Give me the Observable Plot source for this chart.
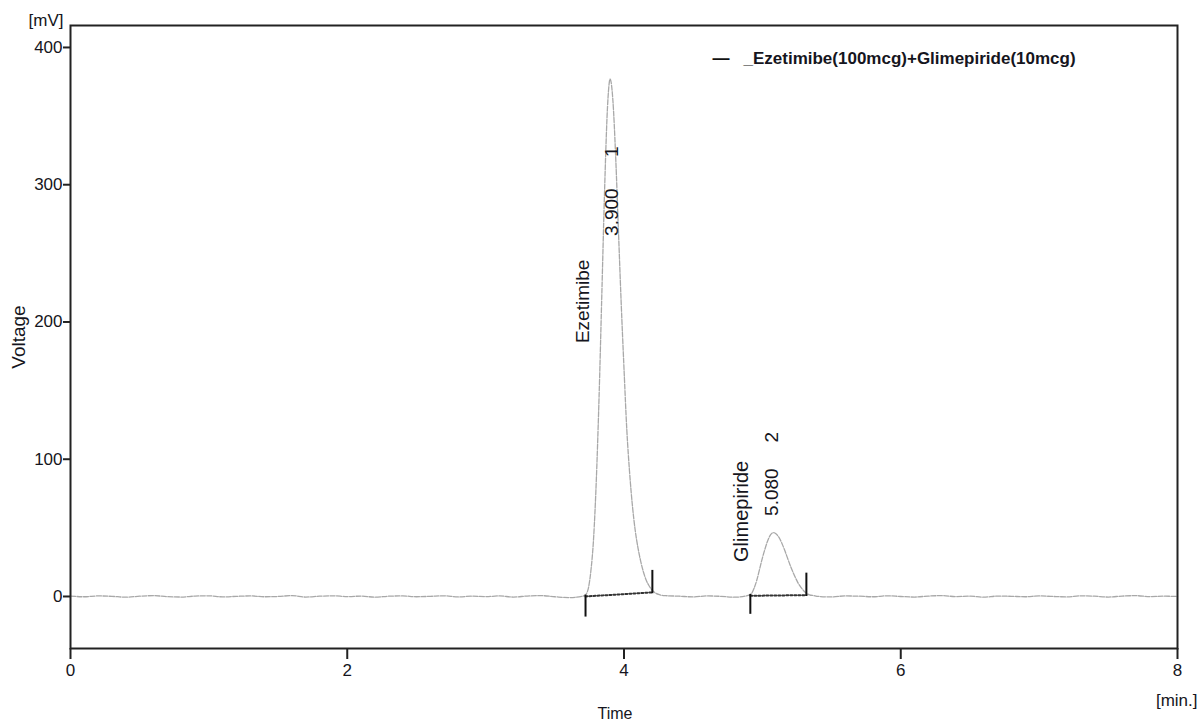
<!DOCTYPE html>
<html>
<head>
<meta charset="utf-8">
<script src="https://cdn.jsdelivr.net/npm/d3@7"></script>
<script src="https://cdn.jsdelivr.net/npm/@observablehq/plot@0.6"></script>
<style>
  html, body { margin: 0; padding: 0; background: #fff; }
  #chart svg { display: block; overflow: visible; }
</style>
</head>
<body>
<div id="chart"></div>
<script>
// ---- data ----
const traceTime = [
  0.0,0.1,0.2,0.3,0.4,0.5,0.6,0.7,0.8,0.9,1.0,1.1,1.2,1.3,1.4,1.5,1.6,1.7,1.8,1.9,
  2.0,2.1,2.2,2.3,2.4,2.5,2.6,2.7,2.8,2.9,3.0,3.1,3.2,3.3,3.4,3.5,3.6,3.7,
  3.72,3.74,3.76,3.78,3.80,3.82,3.84,3.86,3.88,3.90,3.92,3.94,3.96,3.98,4.00,4.02,
  4.04,4.06,4.08,4.10,4.12,4.14,4.16,4.18,4.20,4.22,
  4.26,4.3,4.4,4.5,4.6,4.7,4.8,4.88,
  4.92,4.94,4.96,4.98,5.00,5.02,5.04,5.06,5.08,5.10,5.12,5.14,5.16,5.18,5.20,5.22,
  5.24,5.26,5.28,5.30,5.32,5.34,5.38,
  5.4,5.5,5.6,5.7,5.8,5.9,6.0,6.1,6.2,6.3,6.4,6.5,6.6,6.7,6.8,6.9,7.0,7.1,7.2,7.3,
  7.4,7.5,7.6,7.7,7.8,7.9,8.0
];
const traceMv = [
  0.3,-0.2,0.4,0.1,-0.5,0.2,0.6,-0.1,-0.4,0.3,0.5,-0.3,0.1,0.4,-0.2,0.0,0.6,-0.4,0.2,0.5,
  -0.1,0.3,-0.5,0.2,0.4,-0.2,0.1,0.5,-0.3,0.2,-0.1,0.4,-0.4,0.3,0.6,-0.2,-0.8,0.2,
  1,5,18,42,85,146,221,297,355,377,361,320,266,213,166,122,
  91,67,49,36,26,18,12,8,5,3,
  1.2,0.6,0.2,-0.3,0.4,0.1,-0.5,0.3,
  2,6,12,20,28,35,41,45,46.5,45.5,43,39,34,28.5,23,18,
  13.5,9.5,6.5,4,2.2,1.2,0.5,
  0.1,-0.3,0.4,0.2,-0.2,0.5,0.0,-0.4,0.3,0.6,-0.1,0.2,-0.5,0.3,0.1,-0.2,0.4,0.0,-0.3,0.5,
  0.2,-0.4,0.3,0.6,-0.1,0.2,0.0
];

// integration baselines (start / end of each peak)
const peakIds    = [1, 2];
const peakStartT = [3.722, 4.913];
const peakEndT   = [4.205, 5.318];
const peakStartV = [0, 0.5];
const peakEndV   = [3, 1];
// start / end marker tick extents (mV)
const startMarkLow  = [-15, -13];
const endMarkHigh   = [19, 17];

// peak annotations
const retTimes   = ["3.900", "5.080"];
const peakNames  = ["Ezetimibe", "Glimepiride"];
const nameT  = [3.706, 4.848];
const nameV  = [215, 62];
const rtT    = [3.909, 5.072];
const rtV    = [280, 76];
const numV   = [324, 116];

const xTicks = [0, 2, 4, 6, 8];
const yTicks = [0, 100, 200, 300, 400];
const legendLabels = ["_Ezetimibe(100mcg)+Glimepiride(10mcg)"];

// ---- build tables ----
const trace = traceTime.map((t, i) => ({t, v: traceMv[i]}));
const baseLines = peakIds.flatMap((p, i) => [
  {peak: p, t: peakStartT[i], v: peakStartV[i]},
  {peak: p, t: peakEndT[i], v: peakEndV[i]}
]);
const markers = peakIds.flatMap((p, i) => [
  {t: peakStartT[i], v1: startMarkLow[i], v2: peakStartV[i] + 1},
  {t: peakEndT[i], v1: peakEndV[i] - 1, v2: endMarkHigh[i]}
]);
const nameLabels = peakNames.map((n, i) => ({t: nameT[i], v: nameV[i], text: n}));
const rtLabels = retTimes.map((r, i) => ({t: rtT[i], v: rtV[i], text: r}));
const numLabels = peakIds.map((p, i) => ({t: rtT[i], v: numV[i], text: String(p)}));

const font = "'Liberation Sans', Arial, Helvetica, sans-serif";
const ink = "#151520";

const chart = Plot.plot({
  width: 1198,
  height: 722,
  marginLeft: 70,
  marginRight: 21,
  marginTop: 25,
  marginBottom: 74,
  style: {fontFamily: font, fontSize: "17px", color: ink, background: "#fff", overflow: "visible"},
  x: {domain: [0, 8]},
  y: {domain: [-37.9, 416]},
  marks: [
    Plot.line(trace, {x: "t", y: "v", stroke: "#a8a8a8", strokeWidth: 1.3, strokeDasharray: "5,1.5", curve: "monotone-x"}),
    Plot.line(baseLines, {x: "t", y: "v", z: "peak", stroke: "#333", strokeWidth: 2, strokeDasharray: "2,2"}),
    Plot.ruleX(markers, {x: "t", y1: "v1", y2: "v2", stroke: "#111", strokeWidth: 2}),
    Plot.text(nameLabels.slice(0, 1), {x: "t", y: "v", text: "text", rotate: -90, textAnchor: "middle", lineAnchor: "middle", fontSize: 19, fill: ink}),
    Plot.text(nameLabels.slice(1), {x: "t", y: "v", text: "text", rotate: -90, textAnchor: "middle", lineAnchor: "middle", fontSize: 20, fill: ink}),
    Plot.text(rtLabels, {x: "t", y: "v", text: "text", rotate: -90, textAnchor: "middle", lineAnchor: "middle", fontSize: 19, fill: ink}),
    Plot.text(numLabels, {x: "t", y: "v", text: "text", rotate: -90, textAnchor: "middle", lineAnchor: "middle", fontSize: 19, fill: ink}),
    Plot.frame({stroke: "#222", strokeWidth: 2}),
    Plot.axisX({ticks: xTicks, tickFormat: d => String(d), tickSize: 11, tickPadding: 4, strokeWidth: 2, stroke: "#222", fill: ink, label: null}),
    Plot.axisY({ticks: yTicks, tickFormat: d => String(d), tickSize: 7, tickPadding: 1, strokeWidth: 2, stroke: "#222", fill: ink, label: null}),
    // axis titles
    Plot.text(["[mV]"], {frameAnchor: "top-left", dx: -7, dy: -5, textAnchor: "end", lineAnchor: "middle", fontSize: 17, fill: ink}),
    Plot.text(["Voltage"], {frameAnchor: "left", dx: -52, rotate: -90, textAnchor: "middle", lineAnchor: "middle", fontSize: 19, fill: ink}),
    Plot.text(["Time"], {frameAnchor: "bottom", dx: -9, dy: 65, textAnchor: "middle", lineAnchor: "middle", fontSize: 16, fill: ink}),
    Plot.text(["[min.]"], {frameAnchor: "bottom-right", dx: 20, dy: 52, textAnchor: "end", lineAnchor: "middle", fontSize: 17, fill: ink}),
    // legend
    Plot.text(["—"], {frameAnchor: "top-left", dx: 642, dy: 33, textAnchor: "start", lineAnchor: "middle", fontSize: 17, fontWeight: "bold", fill: "#111"}),
    Plot.text(legendLabels, {frameAnchor: "top-left", dx: 673, dy: 33, textAnchor: "start", lineAnchor: "middle", fontSize: 17, fontWeight: "bold", fill: ink})
  ]
});
document.getElementById("chart").appendChild(chart);
</script>
</body>
</html>
